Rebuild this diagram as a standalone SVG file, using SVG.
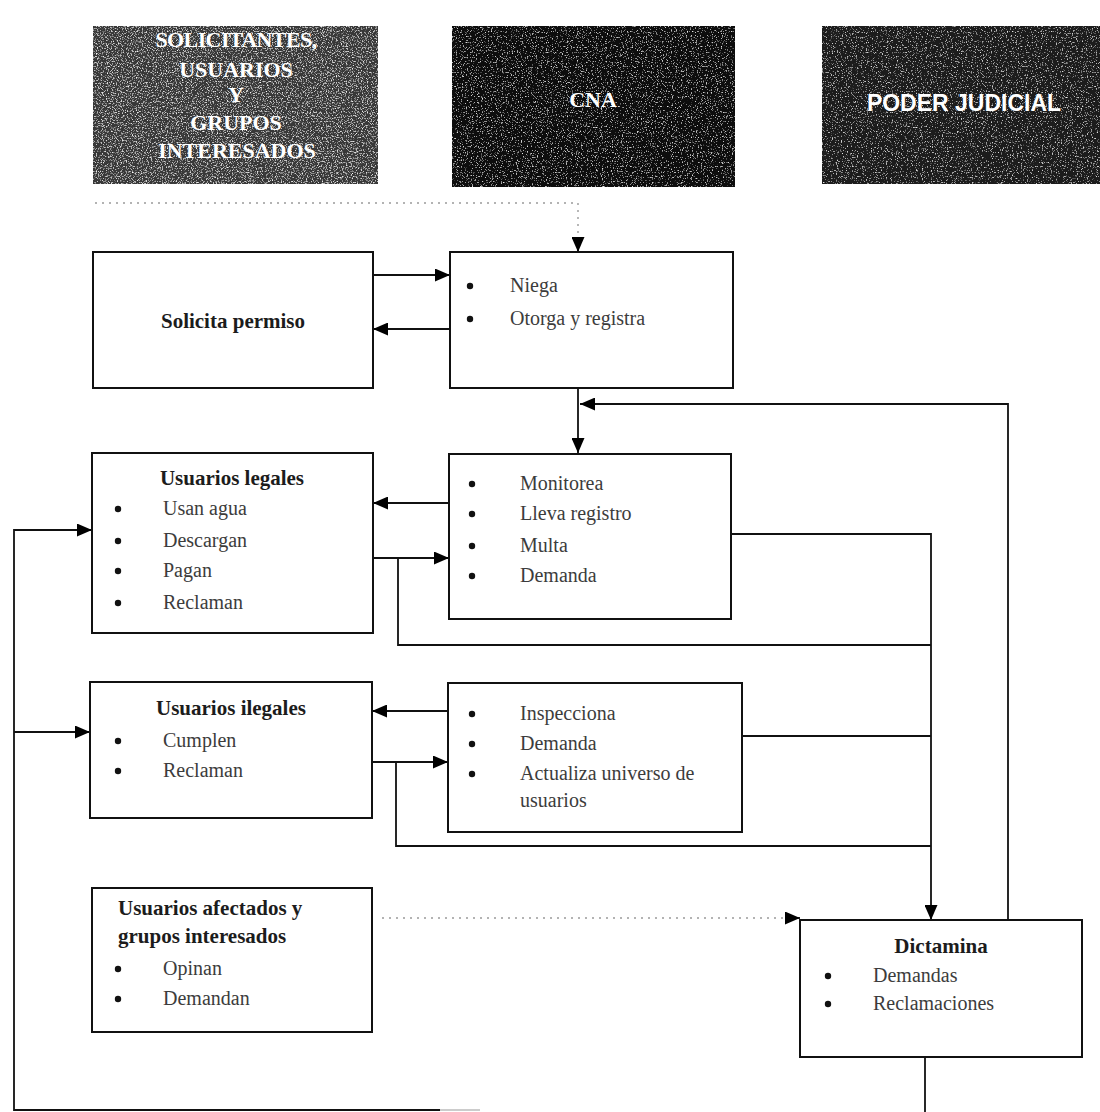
<svg xmlns="http://www.w3.org/2000/svg" width="1100" height="1112" viewBox="0 0 1100 1112">
<defs>
<style>
.hdr{stroke:none}
.box{fill:#fff;stroke:#111;stroke-width:2}
.ttl{font-family:"Liberation Serif","Times New Roman",serif;font-weight:bold;font-size:21px;fill:#1c1c1c}
.txt{font-family:"Liberation Serif","Times New Roman",serif;font-size:20px;fill:#3c3c3c}
.htx{font-family:"Liberation Serif","Times New Roman",serif;font-weight:bold;font-size:22px;fill:#fff;text-anchor:middle}
.hsans{font-family:"Liberation Sans",Arial,sans-serif;font-weight:bold;font-size:23px;fill:#fff;text-anchor:middle}
.ln{fill:none;stroke:#111;stroke-width:1.8}
.dot{fill:none;stroke:#9a9a9a;stroke-width:1.4;stroke-dasharray:2 5}
.bul{fill:#111}
</style>
<marker id="ah" viewBox="0 0 15 13" refX="15" refY="6.5" markerWidth="15" markerHeight="13" markerUnits="userSpaceOnUse" orient="auto">
<path d="M0,0 L15,6.5 L0,13 z" fill="#000"/>
</marker>
<filter id="grain1" x="0" y="0" width="1" height="1">
<feTurbulence type="fractalNoise" baseFrequency="0.8" numOctaves="2" seed="7" result="n"/>
<feColorMatrix in="n" type="matrix" values="0 0 0 0 1 0 0 0 0 1 0 0 0 0 1 3 0 0 0 -1.58" result="sp"/>
<feComposite in="sp" in2="SourceGraphic" operator="in" result="sp2"/>
<feMerge><feMergeNode in="SourceGraphic"/><feMergeNode in="sp2"/></feMerge>
</filter>
<filter id="grain2" x="0" y="0" width="1" height="1">
<feTurbulence type="fractalNoise" baseFrequency="0.8" numOctaves="2" seed="3" result="n"/>
<feColorMatrix in="n" type="matrix" values="0 0 0 0 1 0 0 0 0 1 0 0 0 0 1 3 0 0 0 -1.78" result="sp"/>
<feComposite in="sp" in2="SourceGraphic" operator="in" result="sp2"/>
<feMerge><feMergeNode in="SourceGraphic"/><feMergeNode in="sp2"/></feMerge>
</filter>
</defs>
<rect width="1100" height="1112" fill="#fff"/>

<g id="hdr-solicitantes">
<rect class="hdr" x="93" y="26" width="285" height="158" fill="#383838" filter="url(#grain1)"/>
<text class="htx" x="236" y="47" letter-spacing="-0.6">SOLICITANTES,</text>
<text class="htx" x="236" y="77">USUARIOS</text>
<text class="htx" x="236" y="102">Y</text>
<text class="htx" x="236" y="130">GRUPOS</text>
<text class="htx" x="237" y="158">INTERESADOS</text>
</g>
<g id="hdr-cna">
<rect class="hdr" x="452" y="26" width="283" height="161" fill="#0e0e0e" filter="url(#grain2)"/>
<text class="htx" x="593" y="107">CNA</text>
</g>
<g id="hdr-poder">
<rect class="hdr" x="822" y="26" width="278" height="158" fill="#1e1e1e" filter="url(#grain2)"/>
<text class="hsans" x="964" y="111">PODER JUDICIAL</text>
</g>

<g id="connectors">
<path class="dot" d="M95,203 H578 V250"/>
<path class="ln" d="M578,244 V252" marker-end="url(#ah)" stroke-width="1"/>
<path class="ln" d="M373,275 H450" marker-end="url(#ah)"/>
<path class="ln" d="M450,329 H373" marker-end="url(#ah)"/>
<path class="ln" d="M578,388 V453" marker-end="url(#ah)"/>
<path class="ln" d="M1008,920 V404 H580" marker-end="url(#ah)"/>
<path class="ln" d="M449,503 H373" marker-end="url(#ah)"/>
<path class="ln" d="M373,558 H449" marker-end="url(#ah)"/>
<path class="ln" d="M398,558 V645 H931"/>
<path class="ln" d="M731,534 H931 V920" marker-end="url(#ah)"/>
<path class="ln" d="M448,711 H372" marker-end="url(#ah)"/>
<path class="ln" d="M372,762 H448" marker-end="url(#ah)"/>
<path class="ln" d="M396,762 V846 H931"/>
<path class="ln" d="M727,736 H931"/>
<path class="dot" d="M382,918 H786"/>
<path class="ln" d="M785,918 H800" marker-end="url(#ah)"/>
<path class="ln" d="M925,1057 V1112"/>
<path class="ln" d="M440,1110 H14 V530 H92" marker-end="url(#ah)"/>
<path class="ln" d="M14,732 H90" marker-end="url(#ah)"/>
<path fill="none" stroke="#bbb" stroke-width="1.4" d="M440,1110 H480"/>
</g>

<g id="solicita">
<rect class="box" x="93" y="252" width="280" height="136"/>
<text class="ttl" x="233" y="328" text-anchor="middle">Solicita permiso</text>
</g>
<g id="cna-niega">
<rect class="box" x="450" y="252" width="283" height="136"/>
<circle class="bul" cx="470" cy="286" r="3.2"/>
<text class="txt" x="510" y="292">Niega</text>
<circle class="bul" cx="470" cy="319" r="3.2"/>
<text class="txt" x="510" y="325">Otorga y registra</text>
</g>
<g id="usuarios-legales">
<rect class="box" x="92" y="453" width="281" height="180"/>
<text class="ttl" x="232" y="485" text-anchor="middle">Usuarios legales</text>
<circle class="bul" cx="118" cy="509" r="3.2"/>
<text class="txt" x="163" y="515" fill="#666">Usan agua</text>
<circle class="bul" cx="118" cy="541" r="3.2"/>
<text class="txt" x="163" y="547">Descargan</text>
<circle class="bul" cx="118" cy="571" r="3.2"/>
<text class="txt" x="163" y="577">Pagan</text>
<circle class="bul" cx="118" cy="603" r="3.2"/>
<text class="txt" x="163" y="609">Reclaman</text>
</g>
<g id="cna-monitorea">
<rect class="box" x="449" y="454" width="282" height="165"/>
<circle class="bul" cx="472" cy="484" r="3.2"/>
<text class="txt" x="520" y="490">Monitorea</text>
<circle class="bul" cx="472" cy="514" r="3.2"/>
<text class="txt" x="520" y="520">Lleva registro</text>
<circle class="bul" cx="472" cy="546" r="3.2"/>
<text class="txt" x="520" y="552">Multa</text>
<circle class="bul" cx="472" cy="576" r="3.2"/>
<text class="txt" x="520" y="582">Demanda</text>
</g>
<g id="usuarios-ilegales">
<rect class="box" x="90" y="682" width="282" height="136"/>
<text class="ttl" x="231" y="715" text-anchor="middle">Usuarios ilegales</text>
<circle class="bul" cx="118" cy="741" r="3.2"/>
<text class="txt" x="163" y="747">Cumplen</text>
<circle class="bul" cx="118" cy="771" r="3.2"/>
<text class="txt" x="163" y="777">Reclaman</text>
</g>
<g id="cna-inspecciona">
<rect class="box" x="448" y="683" width="294" height="149"/>
<circle class="bul" cx="472" cy="714" r="3.2"/>
<text class="txt" x="520" y="720">Inspecciona</text>
<circle class="bul" cx="472" cy="744" r="3.2"/>
<text class="txt" x="520" y="750">Demanda</text>
<circle class="bul" cx="472" cy="774" r="3.2"/>
<text class="txt" x="520" y="780">Actualiza universo de</text>
<text class="txt" x="520" y="807">usuarios</text>
</g>
<g id="usuarios-afectados">
<rect class="box" x="92" y="888" width="280" height="144"/>
<text class="ttl" x="118" y="915">Usuarios afectados y</text>
<text class="ttl" x="118" y="943">grupos interesados</text>
<circle class="bul" cx="118" cy="969" r="3.2"/>
<text class="txt" x="163" y="975">Opinan</text>
<circle class="bul" cx="118" cy="999" r="3.2"/>
<text class="txt" x="163" y="1005">Demandan</text>
</g>
<g id="dictamina">
<rect class="box" x="800" y="920" width="282" height="137"/>
<text class="ttl" x="941" y="953" text-anchor="middle">Dictamina</text>
<circle class="bul" cx="828" cy="976" r="3.2"/>
<text class="txt" x="873" y="982">Demandas</text>
<circle class="bul" cx="828" cy="1004" r="3.2"/>
<text class="txt" x="873" y="1010">Reclamaciones</text>
</g>
</svg>
